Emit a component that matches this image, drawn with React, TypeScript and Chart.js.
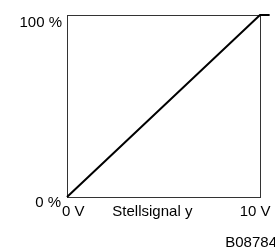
import React, { useEffect, useRef } from "react";
import { Chart, registerables } from "chart.js";

Chart.register(...registerables);

const signalVolts = [0, 10, 10.5];
const outputPercent = [0, 100, 100];
const yLabels = ["0 %", "100 %"];
const xLabels = ["0 V", "10 V"];
const xTitle = "Stellsignal y";
const figureCode = "B08784";

const FONT = '15px "Liberation Sans", Arial, sans-serif';

const textPlugin = {
  id: "customText",
  beforeDatasetsDraw(chart: any) {
    const { ctx, chartArea } = chart;
    ctx.save();
    ctx.strokeStyle = "#333";
    ctx.lineWidth = 1;
    ctx.strokeRect(
      Math.round(chartArea.left) + 0.5,
      Math.round(chartArea.top) + 0.5,
      Math.round(chartArea.right - chartArea.left),
      Math.round(chartArea.bottom - chartArea.top)
    );
    ctx.restore();
  },
  afterDraw(chart: any) {
    const { ctx } = chart;
    const xs = chart.scales.x;
    const ys = chart.scales.y;
    ctx.save();
    ctx.font = FONT;
    ctx.fillStyle = "#000";
    ctx.textBaseline = "middle";
    ctx.textAlign = "right";
    ctx.fillText(yLabels[1], xs.getPixelForValue(0) - 5, ys.getPixelForValue(100) + 8);
    ctx.fillText(yLabels[0], xs.getPixelForValue(0) - 6, ys.getPixelForValue(0) + 6);
    ctx.textAlign = "left";
    const by = ys.getPixelForValue(0) + 15;
    ctx.fillText(xLabels[0], xs.getPixelForValue(0) - 5, by);
    ctx.fillText(xTitle, xs.getPixelForValue(2.35), by);
    ctx.fillText(xLabels[1], xs.getPixelForValue(8.95), by);
    ctx.fillText(figureCode, xs.getPixelForValue(8.2), by + 31);
    ctx.restore();
  },
};

export default function App() {
  const ref = useRef<HTMLCanvasElement>(null);
  useEffect(() => {
    if (!ref.current) return;
    const chart = new Chart(ref.current, {
      type: "line",
      data: {
        datasets: [
          {
            data: signalVolts.map((v, i) => ({ x: v, y: outputPercent[i] })),
            borderColor: "#000",
            borderWidth: 2,
            pointRadius: 0,
            fill: false,
            tension: 0,
            clip: false as any,
          },
        ],
      },
      options: {
        animation: false,
        responsive: false,
        maintainAspectRatio: false,
        layout: { padding: { left: 67, top: 15, right: 15, bottom: 50 } },
        plugins: { legend: { display: false }, tooltip: { enabled: false } },
        scales: {
          x: {
            type: "linear",
            display: false,
            afterDataLimits: (s: any) => {
              s.min = 0;
              s.max = 10;
            },
          },
          y: { type: "linear", min: 0, max: 100, display: false },
        },
      },
      plugins: [textPlugin],
    });
    return () => chart.destroy();
  }, []);
  return (
    <div style={{ position: "fixed", left: 0, top: 0, width: 275, height: 247, background: "#fff" }}>
      <canvas ref={ref} width={275} height={247} style={{ width: 275, height: 247 }} />
    </div>
  );
}
